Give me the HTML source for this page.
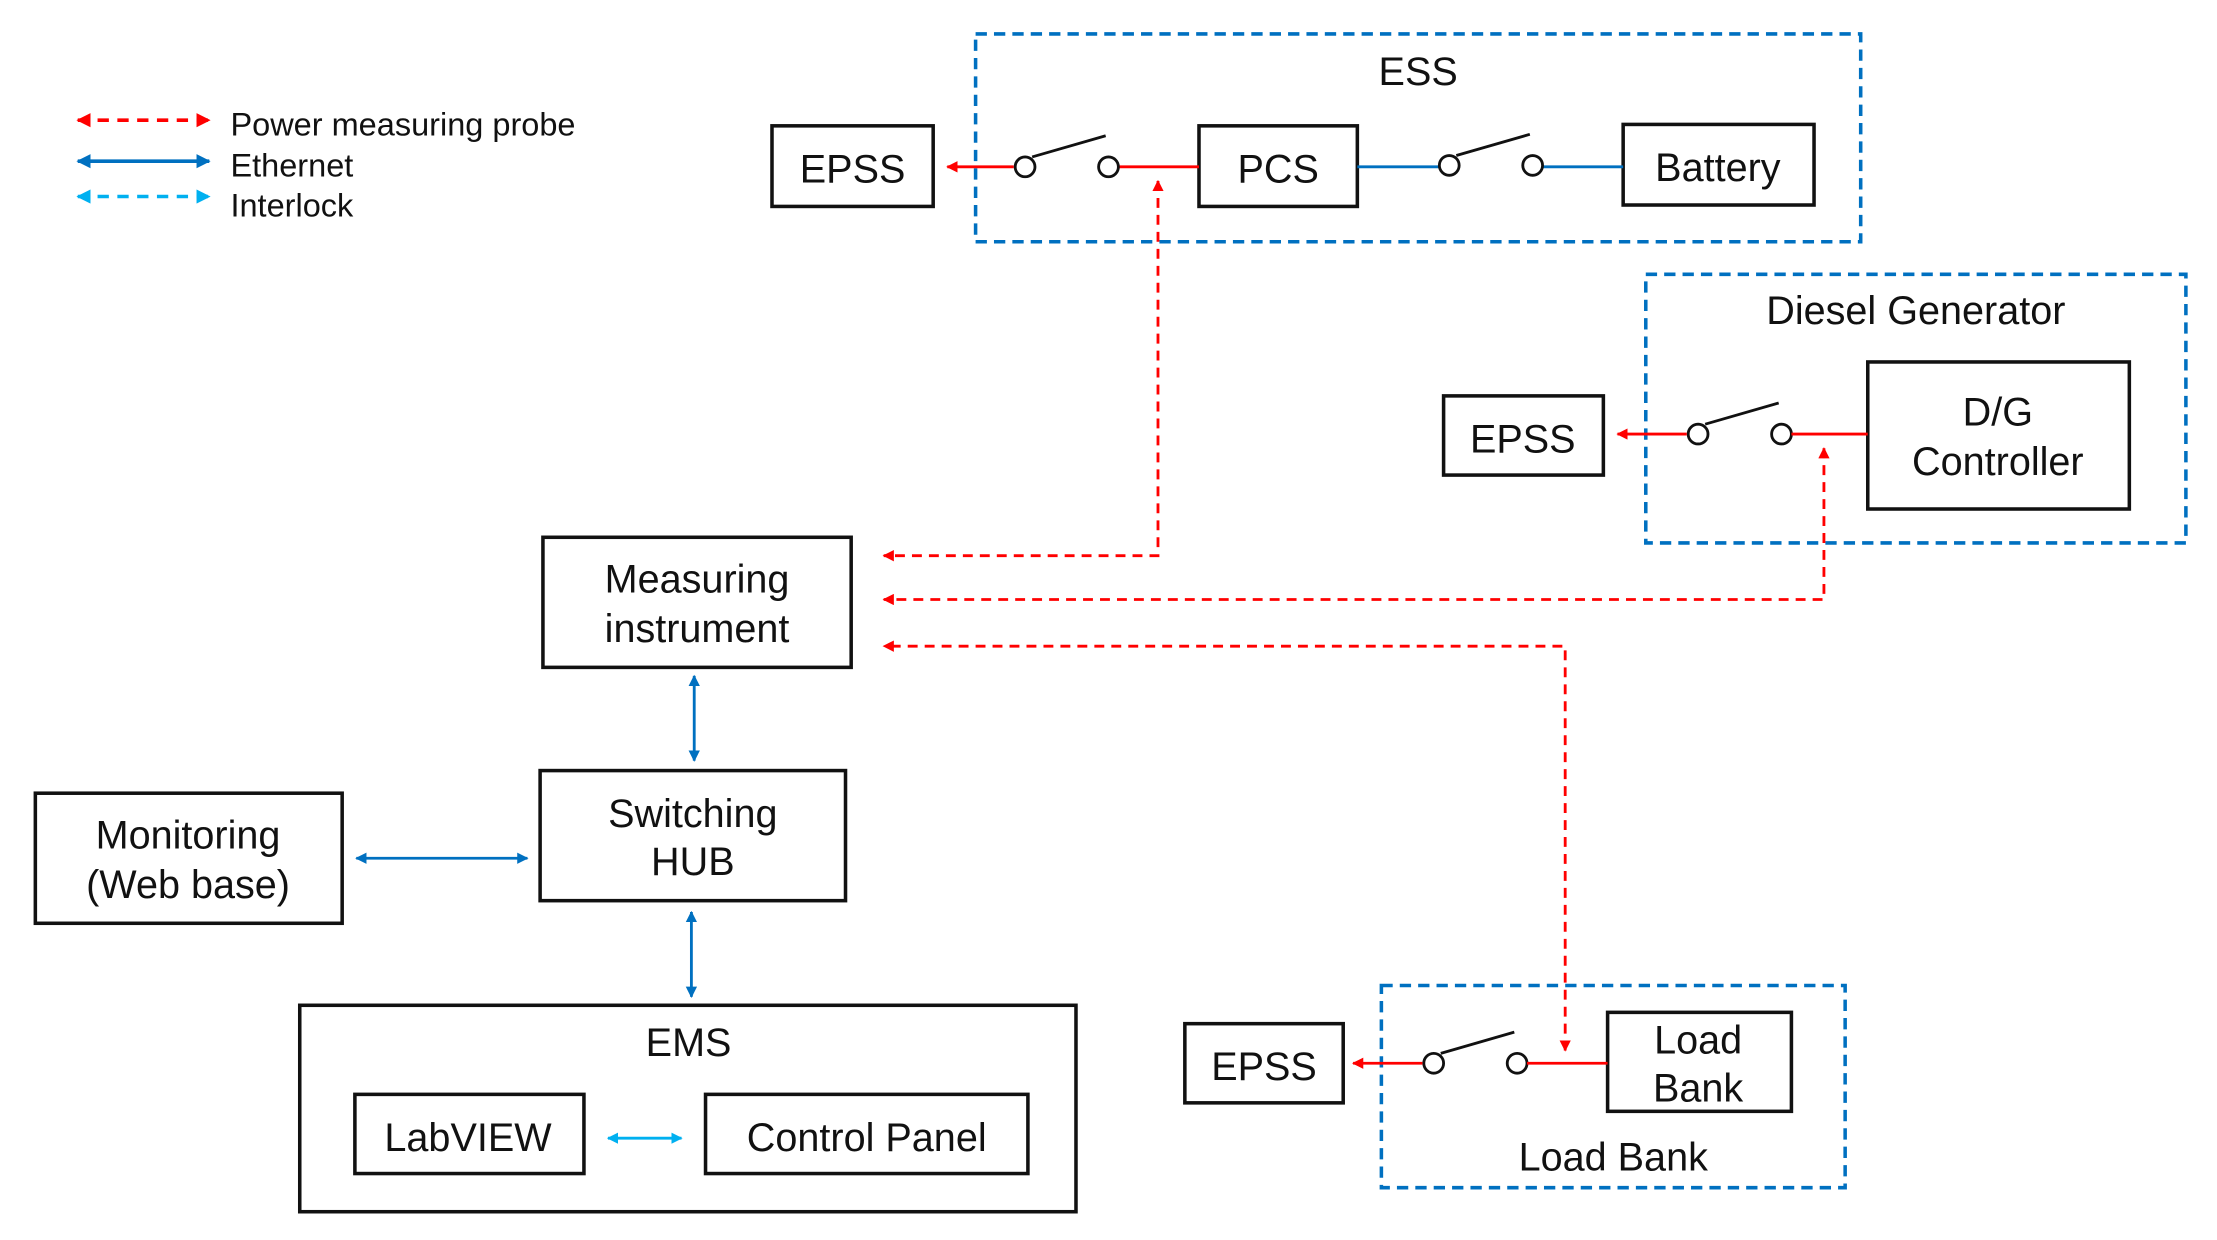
<!DOCTYPE html>
<html><head><meta charset="utf-8"><style>html,body{margin:0;padding:0;background:#fff}svg{display:block}</style></head>
<body>
<svg width="2217" height="1240" viewBox="0 0 1568 877" preserveAspectRatio="none" xmlns="http://www.w3.org/2000/svg" font-family="'Liberation Sans', sans-serif" fill="none">
<defs>
<marker id="r" viewBox="0 0 10 10" refX="9" refY="5" markerWidth="4" markerHeight="4" orient="auto-start-reverse"><path d="M0,0L10,5L0,10z" fill="#f00"/></marker>
<marker id="b" viewBox="0 0 10 10" refX="9" refY="5" markerWidth="4" markerHeight="4" orient="auto-start-reverse"><path d="M0,0L10,5L0,10z" fill="#0070c0"/></marker>
<marker id="c" viewBox="0 0 10 10" refX="9" refY="5" markerWidth="4" markerHeight="4" orient="auto-start-reverse"><path d="M0,0L10,5L0,10z" fill="#00b0f0"/></marker>
</defs>
<line x1="55" y1="85" x2="148" y2="85" stroke="#f00" stroke-width="2.5" stroke-dasharray="8,6" marker-start="url(#r)" marker-end="url(#r)"/>
<line x1="55" y1="114" x2="148" y2="114" stroke="#0070c0" stroke-width="2.5" marker-start="url(#b)" marker-end="url(#b)"/>
<line x1="55" y1="139" x2="148" y2="139" stroke="#00b0f0" stroke-width="2.5" stroke-dasharray="8,6" marker-start="url(#c)" marker-end="url(#c)"/>
<g fill="#111" font-size="23">
<text x="163" y="96">Power measuring probe</text>
<text x="163" y="125">Ethernet</text>
<text x="163" y="153">Interlock</text>
</g>
<g stroke="#0070c0" stroke-width="2.5" stroke-dasharray="8,5">
<rect x="690" y="24" width="626" height="147"/>
<rect x="1164" y="194" width="382" height="190"/>
<rect x="977" y="697" width="328" height="143"/>
</g>
<g stroke="#111" stroke-width="2.5" fill="#fff">
<rect x="546" y="89" width="114" height="57"/>
<rect x="848" y="89" width="112" height="57"/>
<rect x="1148" y="88" width="135" height="57"/>
<rect x="1021" y="280" width="113" height="56"/>
<rect x="1321" y="256" width="185" height="104"/>
<rect x="384" y="380" width="218" height="92"/>
<rect x="382" y="545" width="216" height="92"/>
<rect x="25" y="561" width="217" height="92"/>
<rect x="212" y="711" width="549" height="146"/>
<rect x="251" y="774" width="162" height="56"/>
<rect x="499" y="774" width="228" height="56"/>
<rect x="838" y="724" width="112" height="56"/>
<rect x="1137" y="716" width="130" height="70"/>
</g>
<g fill="#111" font-size="28" text-anchor="middle">
<text x="1003" y="60">ESS</text>
<text x="603" y="129">EPSS</text>
<text x="904" y="129">PCS</text>
<text x="1215" y="128">Battery</text>
<text x="1355" y="229">Diesel Generator</text>
<text x="1077" y="320">EPSS</text>
<text x="1413" y="301">D/G</text>
<text x="1413" y="336">Controller</text>
<text x="493" y="419">Measuring</text>
<text x="493" y="454">instrument</text>
<text x="490" y="585">Switching</text>
<text x="490" y="619">HUB</text>
<text x="133" y="600">Monitoring</text>
<text x="133" y="635">(Web base)</text>
<text x="487" y="747">EMS</text>
<text x="331" y="814">LabVIEW</text>
<text x="613" y="814">Control Panel</text>
<text x="894" y="764">EPSS</text>
<text x="1201" y="745">Load</text>
<text x="1201" y="779">Bank</text>
<text x="1141" y="828">Load Bank</text>
</g>
<line x1="670" y1="118" x2="717" y2="118" stroke="#f00" stroke-width="2" marker-start="url(#r)"/>
<line x1="791" y1="118" x2="848" y2="118" stroke="#f00" stroke-width="2"/>
<line x1="960" y1="118" x2="1018" y2="118" stroke="#0070c0" stroke-width="2"/>
<line x1="1091" y1="118" x2="1148" y2="118" stroke="#0070c0" stroke-width="2"/>
<g stroke="#111" stroke-width="2" fill="#fff">
<circle cx="725" cy="118" r="7"/><circle cx="784" cy="118" r="7"/><line x1="730" y1="111" x2="782" y2="96"/>
<circle cx="1025" cy="117" r="7"/><circle cx="1084" cy="117" r="7"/><line x1="1030" y1="110" x2="1082" y2="95"/>
<circle cx="1201" cy="307" r="7"/><circle cx="1260" cy="307" r="7"/><line x1="1206" y1="300" x2="1258" y2="285"/>
<circle cx="1014" cy="752" r="7"/><circle cx="1073" cy="752" r="7"/><line x1="1019" y1="745" x2="1071" y2="730"/>
</g>
<line x1="1144" y1="307" x2="1193" y2="307" stroke="#f00" stroke-width="2" marker-start="url(#r)"/>
<line x1="1267" y1="307" x2="1321" y2="307" stroke="#f00" stroke-width="2"/>
<line x1="957" y1="752" x2="1006" y2="752" stroke="#f00" stroke-width="2" marker-start="url(#r)"/>
<line x1="1080" y1="752" x2="1137" y2="752" stroke="#f00" stroke-width="2"/>
<g stroke="#f00" stroke-width="2" stroke-dasharray="7,5">
<polyline points="819,128 819,393 625,393" marker-start="url(#r)" marker-end="url(#r)"/>
<polyline points="1290,317 1290,424 625,424" marker-start="url(#r)" marker-end="url(#r)"/>
<polyline points="1107,743 1107,457 625,457" marker-start="url(#r)" marker-end="url(#r)"/>
</g>
<g stroke="#0070c0" stroke-width="2">
<line x1="491" y1="478" x2="491" y2="538" marker-start="url(#b)" marker-end="url(#b)"/>
<line x1="489" y1="645" x2="489" y2="705" marker-start="url(#b)" marker-end="url(#b)"/>
<line x1="252" y1="607" x2="373" y2="607" marker-start="url(#b)" marker-end="url(#b)"/>
</g>
<line x1="430" y1="805" x2="482" y2="805" stroke="#00b0f0" stroke-width="2" marker-start="url(#c)" marker-end="url(#c)"/>
</svg>
</body></html>
